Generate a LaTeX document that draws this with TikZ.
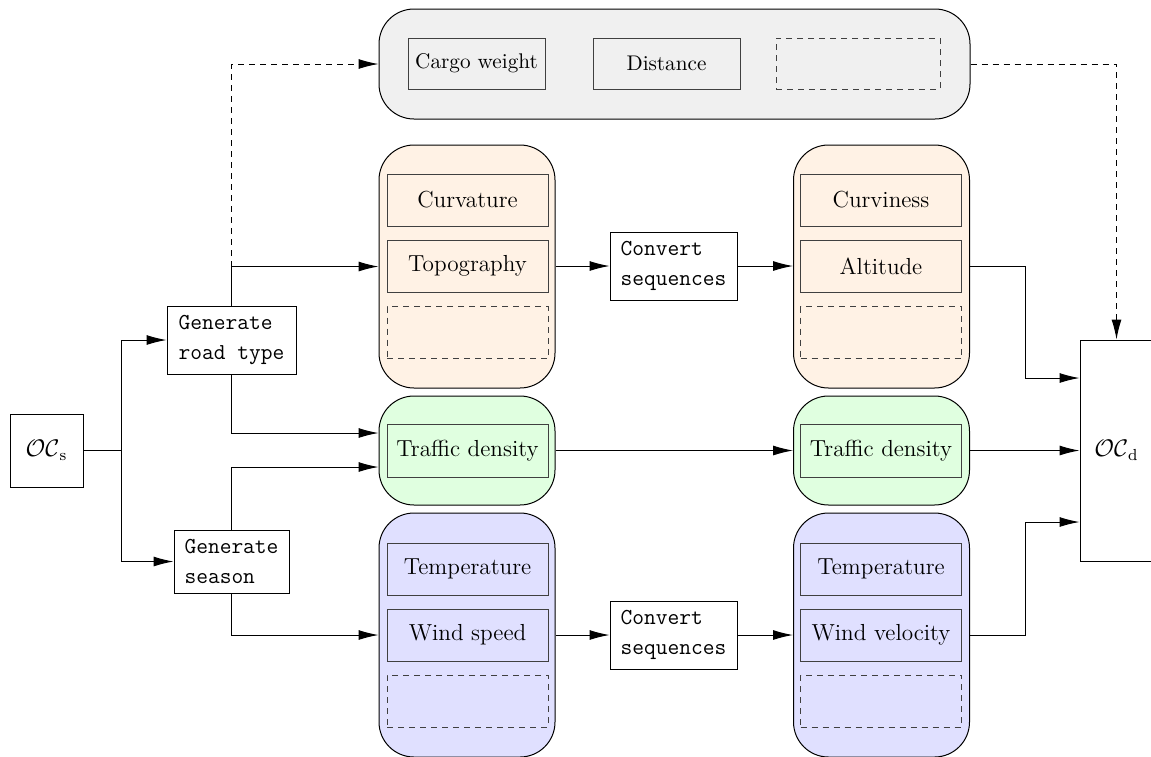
\documentclass[tikz,border=0pt]{standalone}
\usetikzlibrary{arrows.meta,calc}
\begin{document}
\begin{tikzpicture}[x=0.5pt,y=-0.5pt,
  every node/.style={font=\fontsize{11.6}{14}\selectfont},
  grp/.style={draw=black,line width=0.5pt,rounded corners=17.5pt,inner sep=0pt},
  og/.style={grp,fill=orange!10,minimum width=88pt,minimum height=121.5pt},
  gg/.style={grp,fill=green!12,minimum width=88pt,minimum height=54.5pt},
  bg/.style={grp,fill=blue!12,minimum width=88pt,minimum height=122pt},
  tg/.style={grp,fill=black!6,minimum width=295.5pt,minimum height=55pt},
  item/.style={draw=black!75,line width=0.5pt,minimum width=80.5pt,minimum height=26pt,inner sep=0pt},
  titem/.style={item,fill=black!6,minimum height=25.5pt,font=\fontsize{10.6}{12}\selectfont},
  ditem/.style={item,dashed,dash pattern=on 3pt off 2.5pt},
  proc/.style={draw=black,line width=0.5pt,inner sep=0pt,align=left,font=\fontsize{11.4}{15.3}\selectfont\ttfamily},
  arr/.style={line width=0.5pt,-{Latex[length=10pt,width=5pt]}},
  darr/.style={arr,dash pattern=on 3pt off 2.5pt},
  ln/.style={line width=0.5pt}]
\useasboundingbox (0,0) rectangle (1151,756);
\clip (0,0) rectangle (1151,756);

% top group
\node[tg] (top) at (674.5,64) {};
\node[titem,minimum width=68.5pt] (cargo) at (476.5,63.5) {Cargo weight};
\node[titem,minimum width=73.5pt] (dist) at (666.5,63.5) {Distance};
\node[ditem,minimum width=82pt,minimum height=25.5pt] (tdash) at (858,63.5) {};

% orange groups
\node[og] (og1) at (467,266.5) {};
\node[item,fill=orange!10] (curv) at (467.5,200) {Curvature};
\node[item,fill=orange!10] (topo) at (467.5,266) {Topography};
\node[ditem] (od1) at (467.5,332.5) {};
\node[og] (og2) at (881.5,266.5) {};
\node[item,fill=orange!10] (curvi) at (881,200) {Curviness};
\node[item,fill=orange!10] (alt) at (881,266) {Altitude};
\node[ditem] (od2) at (881,332.5) {};

% green groups
\node[gg] (gg1) at (467,450.5) {};
\node[item,fill=green!12,minimum height=26.5pt] (td1) at (467.5,450.5) {Traffic density};
\node[gg] (gg2) at (881.5,450.5) {};
\node[item,fill=green!12,minimum height=26.5pt] (td2) at (881,450.5) {Traffic density};

% blue groups
\node[bg] (bg1) at (467,635) {};
\node[item,fill=blue!12] (temp1) at (467.5,569) {Temperature};
\node[item,fill=blue!12] (wind) at (467.5,635) {Wind speed};
\node[ditem] (bd1) at (467.5,701) {};
\node[bg] (bg2) at (881.5,635) {};
\node[item,fill=blue!12] (temp2) at (881,569) {Temperature};
\node[item,fill=blue!12] (wvel) at (881,635) {Wind velocity};
\node[ditem] (bd2) at (881,701) {};

% process nodes
\node[proc,minimum width=36.5pt,minimum height=36.5pt,align=center,font=\fontsize{11.6}{13}\selectfont] (ocs) at (46.5,450.5) {$\mathcal{OC}_\mathrm{s}$};
\node[proc,minimum width=64.5pt,minimum height=34pt] (grt) at (231.5,340) {Generate\\road type};
\node[proc,minimum width=57.5pt,minimum height=31.5pt] (gs) at (231.5,561.5) {Generate\\season};
\node[proc,minimum width=63.5pt,minimum height=34pt] (cv1) at (673.5,266) {Convert\\sequences};
\node[proc,minimum width=63.5pt,minimum height=34pt] (cv2) at (673.5,635) {Convert\\sequences};
\node[proc,minimum width=36.5pt,minimum height=110.5pt,align=center,font=\fontsize{11.6}{13}\selectfont] (ocd) at (1116.5,450.5) {$\mathcal{OC}_\mathrm{d}$};

% connectors
\coordinate (j1) at (121,450.5);
\draw[ln] (ocs.east) -- (j1);
\draw[arr] (j1) |- (grt.west);
\draw[arr] (j1) |- (gs.west);
\draw[arr] (grt.north) |- (og1.west);
\draw[darr] (grt.north |- og1.west) |- (top.west);
\draw[arr] (grt.south) |- ([yshift=8.75pt]gg1.west);
\draw[arr] (gs.north) |- ([yshift=-8.25pt]gg1.west);
\draw[arr] (gs.south) |- (bg1.west);
\draw[arr] (og1.east |- topo) -- (cv1.west);
\draw[arr] (cv1.east) -- (og2.west |- alt);
\draw[arr] (gg1.east) -- (gg2.west);
\draw[arr] (bg1.east |- wind) -- (cv2.west);
\draw[arr] (cv2.east) -- (bg2.west |- wvel);
\draw[arr] (og2.east |- alt) -- ++(55,0) |- ([yshift=36.25pt]ocd.west);
\draw[arr] (gg2.east) -- (ocd.west);
\draw[arr] (bg2.east |- wvel) -- ++(55,0) |- ([yshift=-35.75pt]ocd.west);
\draw[darr] (top.east) -| (ocd.north);
\end{tikzpicture}
\end{document}
